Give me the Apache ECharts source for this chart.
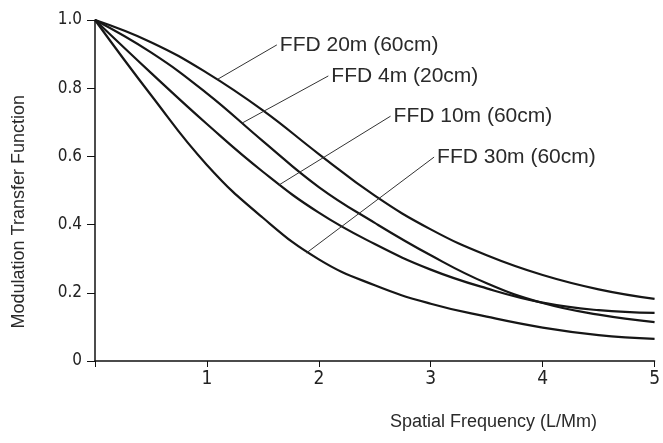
<!DOCTYPE html>
<html>
<head>
<meta charset="utf-8">
<script src="https://cdn.jsdelivr.net/npm/echarts@6/dist/echarts.min.js"></script>
<style>html,body{margin:0;padding:0;background:#fff}#c{width:663px;height:443px}</style>
</head>
<body>
<div id="c"></div>
<script>
// Data (x: spatial frequency L/mm, y: MTF)
const seriesNames = ['FFD 20m (60cm)', 'FFD 4m (20cm)', 'FFD 10m (60cm)', 'FFD 30m (60cm)'];
const ffd20m = [[0,1],[0.5,0.935],[1,0.845],[1.5,0.735],[2,0.607],[2.5,0.485],[3,0.386],[3.5,0.31],[4,0.252],[4.5,0.21],[5,0.182]];
const ffd4m  = [[0,1],[0.5,0.905],[1,0.785],[1.5,0.645],[2,0.51],[2.5,0.405],[3,0.31],[3.5,0.228],[4,0.17],[4.5,0.136],[5,0.114]];
const ffd10m = [[0,1],[0.5,0.845],[1,0.695],[1.5,0.555],[2,0.435],[2.5,0.343],[3,0.268],[3.5,0.213],[4,0.171],[4.5,0.149],[5,0.141]];
const ffd30m = [[0,1],[0.5,0.78],[1,0.575],[1.5,0.42],[2,0.298],[2.5,0.222],[3,0.168],[3.5,0.13],[4,0.098],[4.5,0.076],[5,0.065]];
// leader lines: [point on curve, label anchor]
const leaders = [
  [[1.095,0.826],[1.625,0.927]],
  [[1.316,0.698],[2.085,0.836]],
  [[1.643,0.516],[2.641,0.718]],
  [[1.89,0.317],[3.03,0.598]]
];
const xTicks = [0,1,2,3,4,5];
const yTicks = [0,0.2,0.4,0.6,0.8,1.0];

const chart = echarts.init(document.getElementById('c'));
const dataSets = [ffd20m, ffd4m, ffd10m, ffd30m];
const series = dataSets.map((d,i)=>({
  name: seriesNames[i],
  type: 'line',
  data: d,
  smooth: 0.45,
  symbol: 'none',
  lineStyle: {color:'#161616', width:2.2},
  markLine: {
    silent: true, symbol: ['none','none'],
    lineStyle: {color:'#333', width:1, type:'solid'},
    label: {show:false},
    data: [[{coord: leaders[i][0]}, {coord: leaders[i][1]}]]
  },
  markPoint: {
    silent: true, symbol: 'circle', symbolSize: 0,
    label: {show:true, position:'right', distance:3, formatter: seriesNames[i],
      color:'#2a2a2a', fontFamily:'Liberation Sans, Arial, sans-serif', fontSize:21},
    data: [{coord: leaders[i][1]}]
  }
}));
chart.setOption({
  animation: false,
  grid: {left: 95, right: 3, top: 20, bottom: 82},
  xAxis: {
    type: 'value', min: 0, max: 5, interval: 1,
    axisLine: {lineStyle:{color:'#111', width:1.5}},
    axisTick: {show:true, length:6, lineStyle:{color:'#111'}},
    splitLine: {show:false},
    axisLabel: {margin:9, color:'#222', fontSize:19, fontFamily:'Liberation Sans Narrow, DejaVu Sans Condensed, Arial, sans-serif',
      formatter: v => v===0 ? '' : String(v), showMaxLabel:true}
  },
  yAxis: {
    type: 'value', min: 0, max: 1, interval: 0.2,
    axisLine: {show:true, lineStyle:{color:'#111', width:1.5}},
    axisTick: {show:true, length:8, lineStyle:{color:'#111'}},
    splitLine: {show:false},
    axisLabel: {margin:13, color:'#222', fontSize:17, fontFamily:'Liberation Sans Narrow, DejaVu Sans Condensed, Arial, sans-serif',
      formatter: v => v===0 ? '0' : v.toFixed(1)}
  },
  graphic: [
    {type:'text', left: 10, top: 95, rotation: Math.PI/2, originX:0, originY:0,
      style:{text:'Modulation Transfer Function', fill:'#2a2a2a', font:'18px "Liberation Sans", Arial, sans-serif'}},
    {type:'text', left: 390, top: 413,
      style:{text:'Spatial Frequency (L/Mm)', fill:'#2a2a2a', font:'18px "Liberation Sans", Arial, sans-serif'}}
  ],
  series: series
});
</script>
</body>
</html>
